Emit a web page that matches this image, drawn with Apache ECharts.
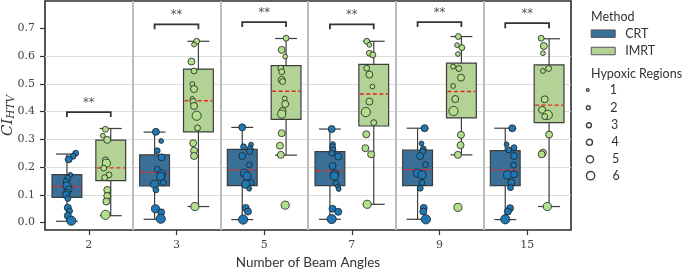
<!DOCTYPE html>
<html>
<head>
<meta charset="utf-8">
<script src="https://cdn.jsdelivr.net/npm/echarts@6/dist/echarts.min.js"></script>
<style>
  html, body { margin: 0; padding: 0; background: #fff; }
  #chart { width: 685px; height: 271px; }
</style>
</head>
<body>
<div id="chart"></div>
<script>
const beamAngles = ['2', '3', '5', '7', '9', '15'];
const yTicks = [0, 0.1, 0.2, 0.3, 0.4, 0.5, 0.6, 0.7];
const regions = ['1', '2', '3', '4', '5', '6'];

// [lower whisker, q1, median, q3, upper whisker]
const crtBoxes = [
  [0.005, 0.091, 0.130, 0.173, 0.247],
  [0.012, 0.132, 0.181, 0.244, 0.326],
  [0.011, 0.133, 0.190, 0.264, 0.343],
  [0.012, 0.133, 0.187, 0.256, 0.337],
  [0.012, 0.133, 0.191, 0.261, 0.340],
  [0.011, 0.133, 0.190, 0.259, 0.340]
];
const imrtBoxes = [
  [0.025, 0.151, 0.197, 0.297, 0.339],
  [0.058, 0.327, 0.439, 0.553, 0.653],
  [0.243, 0.372, 0.473, 0.565, 0.663],
  [0.066, 0.348, 0.463, 0.570, 0.653],
  [0.244, 0.377, 0.472, 0.574, 0.670],
  [0.058, 0.360, 0.423, 0.568, 0.662]
];

// strip points per beam angle: [jitter, CI_HTV, hypoxic regions]
const crtPoints = [
  [[0.10,0.250,3],[0.07,0.239,3],[0.02,0.228,4],[0.04,0.172,2],[0.01,0.160,3],[-0.01,0.148,3],[0.0,0.132,5],[0.02,0.120,4],[0.0,0.108,4],[-0.01,0.100,4],[0.01,0.087,3],[0.01,0.054,4],[0.03,0.042,3],[0.01,0.025,4],[0.05,0.007,6]],
  [[0.015,0.327,4],[0.075,0.294,2],[0.03,0.259,3],[0.08,0.235,4],[0.03,0.192,3],[0.08,0.175,5],[0.07,0.166,5],[0.10,0.144,3],[0.0,0.138,5],[0.015,0.118,3],[0.01,0.050,5],[0.075,0.037,4],[0.07,0.014,6]],
  [[0.0,0.343,4],[0.10,0.281,2],[0.015,0.273,3],[0.09,0.267,3],[0.085,0.256,3],[0.0,0.240,4],[0.08,0.208,3],[0.025,0.178,5],[0.055,0.168,5],[0.10,0.144,3],[0.04,0.138,5],[0.08,0.122,2],[0.04,0.053,4],[0.065,0.040,4],[0.01,0.011,6]],
  [[0.02,0.337,4],[0.035,0.283,2],[0.03,0.273,3],[0.035,0.262,3],[0.02,0.250,3],[0.095,0.238,4],[0.03,0.204,4],[0.055,0.175,5],[0.05,0.168,5],[0.07,0.142,3],[0.09,0.130,2],[0.10,0.121,2],[0.03,0.050,4],[0.095,0.039,4],[0.02,0.013,6]],
  [[0.08,0.340,4],[0.045,0.285,2],[0.065,0.265,3],[0.06,0.256,3],[0.03,0.240,4],[0.09,0.209,3],[0.0,0.178,5],[0.05,0.172,5],[0.05,0.144,3],[0.03,0.124,3],[0.07,0.053,4],[0.065,0.040,4],[0.095,0.012,6]],
  [[0.08,0.340,4],[0.015,0.282,2],[0.10,0.270,3],[0.04,0.262,3],[0.10,0.240,4],[0.095,0.207,3],[0.025,0.172,5],[0.10,0.174,4],[0.07,0.144,4],[0.06,0.126,3],[0.055,0.052,4],[0.03,0.040,4],[0.0,0.012,6]]
];
const imrtPoints = [
  [[-0.06,0.336,3],[-0.09,0.313,2],[-0.04,0.298,4],[-0.06,0.226,3],[-0.05,0.214,5],[-0.08,0.196,3],[-0.02,0.172,3],[-0.07,0.162,3],[-0.04,0.118,4],[-0.04,0.096,4],[-0.05,0.076,4],[-0.06,0.028,6]],
  [[-0.02,0.653,3],[-0.05,0.641,2],[-0.08,0.580,4],[-0.05,0.546,3],[-0.07,0.499,2],[-0.05,0.481,4],[-0.07,0.445,2],[-0.06,0.436,3],[-0.05,0.420,4],[-0.02,0.385,6],[-0.01,0.341,3],[-0.06,0.286,4],[-0.05,0.259,4],[-0.05,0.240,4],[-0.04,0.058,5]],
  [[0.0,0.664,3],[-0.05,0.622,4],[-0.01,0.598,2],[-0.06,0.556,3],[-0.05,0.543,3],[-0.05,0.514,4],[-0.04,0.508,3],[-0.015,0.447,2],[-0.01,0.427,4],[-0.04,0.402,4],[-0.05,0.391,5],[-0.05,0.322,4],[-0.07,0.277,4],[-0.06,0.244,4],[-0.01,0.063,5]],
  [[-0.08,0.653,3],[-0.05,0.640,2],[-0.05,0.610,3],[-0.01,0.604,3],[-0.08,0.556,3],[-0.05,0.533,4],[-0.015,0.490,2],[-0.05,0.436,4],[-0.09,0.398,6],[0.0,0.360,3],[-0.085,0.318,4],[-0.095,0.268,4],[-0.03,0.246,4],[-0.075,0.066,5]],
  [[-0.035,0.670,3],[-0.05,0.639,2],[0.005,0.630,3],[-0.04,0.607,2],[-0.095,0.562,2],[-0.03,0.555,3],[-0.005,0.522,4],[-0.095,0.492,2],[-0.07,0.445,4],[-0.09,0.402,6],[-0.005,0.316,4],[-0.01,0.279,4],[-0.04,0.244,4],[-0.04,0.055,5]],
  [[-0.09,0.664,3],[-0.06,0.636,4],[-0.07,0.610,2],[-0.005,0.555,3],[-0.07,0.546,2],[-0.05,0.444,4],[-0.08,0.406,4],[-0.015,0.388,6],[-0.05,0.382,3],[0.0,0.317,4],[-0.07,0.252,4],[-0.085,0.246,4],[-0.02,0.058,5]]
];

// significance brackets (** for every beam angle)
const bracketLevels = [0.398, 0.714, 0.722, 0.714, 0.722, 0.718];
const bracketLabels = ['**', '**', '**', '**', '**', '**'];

const CRT_BOX = '#3a6f98';
const IMRT_BOX = '#b3d396';
const CRT_DOT = '#1f78b4';
const IMRT_DOT = '#b2df8a';
const EDGE = '#3d3d3d';
const DODGE = 0.25;
const sansFont = 'Lato';
const serifFont = 'DejaVu Serif';

const pointSize = n => 2.6 + n * 1.1;

function boxRenderer(offset, fill) {
  return function (params, api) {
    const i = api.value(0);
    const x = i + offset;
    const lo = api.coord([x, api.value(1)]);
    const q1 = api.coord([x, api.value(2)]);
    const med = api.coord([x, api.value(3)]);
    const q3 = api.coord([x, api.value(4)]);
    const hi = api.coord([x, api.value(5)]);
    const bw = api.size([0.34, 0])[0];
    const cw = api.size([0.25, 0])[0];
    const line = {stroke: EDGE, lineWidth: 1.2};
    return {
      type: 'group',
      children: [
        {type: 'line', shape: {x1: lo[0], y1: lo[1], x2: q1[0], y2: q1[1]}, style: line},
        {type: 'line', shape: {x1: q3[0], y1: q3[1], x2: hi[0], y2: hi[1]}, style: line},
        {type: 'line', shape: {x1: lo[0] - cw / 2, y1: lo[1], x2: lo[0] + cw / 2, y2: lo[1]}, style: line},
        {type: 'line', shape: {x1: hi[0] - cw / 2, y1: hi[1], x2: hi[0] + cw / 2, y2: hi[1]}, style: line},
        {type: 'rect', shape: {x: q3[0] - bw / 2, y: q3[1], width: bw, height: q1[1] - q3[1]},
          style: {fill: fill, stroke: EDGE, lineWidth: 1.2}},
        {type: 'line', shape: {x1: med[0] - bw / 2 + 1, y1: med[1], x2: med[0] + bw / 2 - 1, y2: med[1]},
          style: {stroke: '#e8251f', lineWidth: 1.4, lineDash: [4, 2.5]}}
      ]
    };
  };
}

function bracketRenderer(params, api) {
  const i = api.value(0);
  const h = api.value(1);
  const l = api.coord([i - DODGE, h]);
  const r = api.coord([i + DODGE, h]);
  const drop = api.size([0, 0.018])[1];
  const txt = api.coord([i, h + 0.034]);
  return {
    type: 'group',
    children: [
      {type: 'polyline', shape: {points: [[l[0], l[1] + drop], l, r, [r[0], r[1] + drop]]},
        style: {stroke: '#333', lineWidth: 1.8, fill: null}},
      {type: 'text', style: {text: bracketLabels[i], x: txt[0], y: txt[1], align: 'center', verticalAlign: 'middle',
        fill: '#555', fontSize: 11.5, fontFamily: 'DejaVu Sans'}}
    ]
  };
}

function stripData(points, offset) {
  const out = [];
  points.forEach((list, i) => list.forEach(p => out.push([i + offset + p[0], p[1], p[2]])));
  return out;
}

const legendText = {fontFamily: sansFont, fontSize: 12.5, color: '#333', lineHeight: 14};
const regionTops = [83, 100.7, 118.3, 135.3, 152.3, 168.7];

const chart = echarts.init(document.getElementById('chart'), null, {renderer: 'canvas'});
chart.setOption({
  animation: false,
  title: [
    {text: 'Method', left: 591, top: 9, padding: 0,
      textStyle: {fontFamily: sansFont, fontSize: 12.5, fontWeight: 'normal', color: '#333', lineHeight: 15}},
    {text: 'Hypoxic Regions', left: 591, top: 66.5, padding: 0,
      textStyle: {fontFamily: sansFont, fontSize: 12.5, fontWeight: 'normal', color: '#333', lineHeight: 15}}
  ],
  legend: [
    {
      orient: 'vertical', left: 590.7, top: 26.7, padding: 0, itemGap: 3.3,
      itemWidth: 24, itemHeight: 7.5, selectedMode: false,
      textStyle: Object.assign({padding: [0, 0, 0, 5]}, legendText),
      data: [
        {name: 'CRT', icon: 'rect', itemStyle: {color: CRT_BOX, borderColor: '#555', borderWidth: 1}},
        {name: 'IMRT', icon: 'rect', itemStyle: {color: IMRT_BOX, borderColor: '#555', borderWidth: 1}}
      ]
    }
  ].concat(regions.map((r, k) => ({
    orient: 'vertical', left: 585.7, top: regionTops[k], padding: 0,
    itemWidth: 34, itemHeight: 1.6 + (k + 1) * 1.12, selectedMode: false,
    textStyle: legendText,
    data: [{name: r, icon: 'circle', itemStyle: {color: '#fff', borderColor: '#111', borderWidth: 1.4}}]
  }))),
  grid: {left: 45, right: 114, top: 1, bottom: 41, outerBoundsMode: 'none', containLabel: false,
    show: true, borderColor: '#2b2b2b', borderWidth: 1.6},
  xAxis: [
    {
      type: 'category', data: beamAngles, boundaryGap: true,
      name: 'Number of Beam Angles', nameLocation: 'middle', nameGap: 26, nameMoveOverlap: false,
      nameTextStyle: {fontFamily: sansFont, fontSize: 13.5, color: '#333'},
      axisLine: {show: false, onZero: false},
      axisTick: {show: true, alignWithLabel: true, interval: 0, length: 5, lineStyle: {color: '#333', width: 1.2}},
      axisLabel: {interval: 0, margin: 10, fontFamily: serifFont, fontSize: 11, color: '#444'},
      splitLine: {show: true, interval: 0, showMinLine: false, showMaxLine: false,
        lineStyle: {color: '#bcbcbc', width: 2}}
    },
    {type: 'value', min: -0.5, max: 5.5, show: false}
  ],
  yAxis: {
    type: 'value', min: -0.0265, max: 0.798, splitNumber: 8,
    name: '{a|CI}{b|HTV}', nameLocation: 'middle', nameGap: 28, nameRotate: 90, nameMoveOverlap: false,
    nameTextStyle: {
      rich: {
        a: {fontFamily: serifFont, fontStyle: 'italic', fontSize: 15, color: '#333', lineHeight: 18, verticalAlign: 'middle'},
        b: {fontFamily: serifFont, fontStyle: 'italic', fontSize: 10.5, color: '#333', lineHeight: 10, verticalAlign: 'bottom'}
      }
    },
    axisLine: {show: false, onZero: false},
    axisTick: {show: true, length: 5, customValues: yTicks, lineStyle: {color: '#333', width: 1.2}},
    axisLabel: {customValues: yTicks, margin: 10, fontFamily: serifFont, fontSize: 11, color: '#444',
      formatter: v => v.toFixed(1)},
    splitLine: {show: true, showMinLine: false, showMaxLine: false, lineStyle: {color: '#dcdcdc', width: 1.2}}
  },
  series: [
    {
      name: 'CRT', type: 'custom', xAxisIndex: 1, z: 2,
      renderItem: boxRenderer(-DODGE, CRT_BOX),
      encode: {x: 0, y: [1, 2, 3, 4, 5]},
      data: crtBoxes.map((b, i) => [i].concat(b))
    },
    {
      name: 'IMRT', type: 'custom', xAxisIndex: 1, z: 2,
      renderItem: boxRenderer(DODGE, IMRT_BOX),
      encode: {x: 0, y: [1, 2, 3, 4, 5]},
      data: imrtBoxes.map((b, i) => [i].concat(b))
    },
    {
      name: 'CRT points', type: 'scatter', xAxisIndex: 1, z: 3,
      symbolSize: v => pointSize(v[2]),
      itemStyle: {color: CRT_DOT, borderColor: '#1e1e1e', borderWidth: 0.8, opacity: 1},
      data: stripData(crtPoints, -DODGE)
    },
    {
      name: 'IMRT points', type: 'scatter', xAxisIndex: 1, z: 3,
      symbolSize: v => pointSize(v[2]),
      itemStyle: {color: IMRT_DOT, borderColor: '#1e1e1e', borderWidth: 0.8, opacity: 1},
      data: stripData(imrtPoints, DODGE)
    },
    {
      name: 'brackets', type: 'custom', xAxisIndex: 1, z: 4,
      renderItem: bracketRenderer,
      encode: {x: 0, y: 1},
      data: bracketLevels.map((h, i) => [i, h])
    }
  ].concat(regions.map(r => ({name: r, type: 'scatter', xAxisIndex: 1, data: []})))
});
</script>
</body>
</html>
